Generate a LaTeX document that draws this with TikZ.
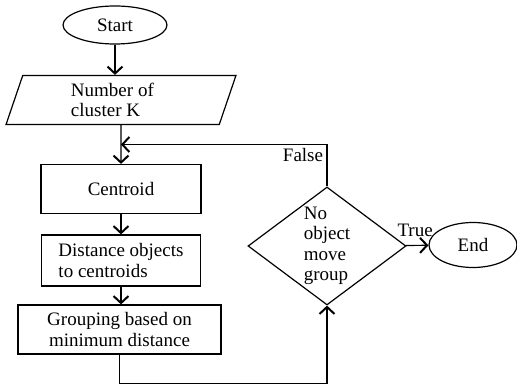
\documentclass[tikz,border=0pt]{standalone}
\usepackage{fontspec}
\setmainfont{Liberation Serif}
\usetikzlibrary{positioning}
\usetikzlibrary{arrows.meta}
\usetikzlibrary{shapes.geometric}
\usetikzlibrary{calc}
\tikzstyle{terminal} = [draw, ellipse, inner sep=0pt]
\tikzstyle{block} = [draw, rectangle, minimum height=49pt, inner sep=2pt]
\tikzstyle{io} = [draw, trapezium, trapezium left angle=76, trapezium right angle=104, trapezium stretches=true, minimum width=230pt, minimum height=49pt, inner sep=0pt]
\tikzstyle{decision} = [draw, diamond, aspect=1.34, minimum width=158pt, minimum height=118pt, inner sep=0pt]

\begin{document}
\begin{tikzpicture}[>={Straight Barb[length=7pt,width=15pt,line width=2pt]}, line width=1.2pt, font=\fontsize{19}{20.5}\selectfont, x=1pt, y=1pt]
    \useasboundingbox (-115,25) rectangle (402,-362);
    \node[terminal, name=start, minimum width=104pt, minimum height=38pt] {Start};
    \node[io, below of=start, name=input, node distance=75pt, xshift=6pt, text width=100pt, align=flush left] {Number of\\cluster K};
    \node[block, below of=input, name=centroid, node distance=89pt, minimum width=160pt] {Centroid};
    \node[block, below of=centroid, name=dist, node distance=71.5pt, minimum width=159pt, minimum height=51pt, align=left] {Distance objects\\to centroids};
    \node[block, below of=dist, name=group, node distance=69pt, xshift=-1.5pt, minimum width=203pt, align=center] {Grouping based on\\minimum distance};
    \node[decision, right of=dist, name=dec, node distance=206pt, yshift=14.5pt, align=left] {No\\object\\move\\group};
    \node[terminal, right of=dec, name=end, node distance=146pt, yshift=1pt, minimum width=88pt, minimum height=45pt] {End};

    \draw[->] (start) -- (start |- input.north);
    \draw[->] (input) -- (centroid);
    \draw[->] (centroid) -- (dist);
    \draw[->] (dist.south) -- (dist.south |- group.north);
    \draw[->] (dec) -- node[above=5pt, xshift=-2pt] {True} (end);
    \draw[->] (dec.north) |- node[pos=0.5, below left] {False} ($(input.south)!0.5!(centroid.north)$);
    \draw[->] (group.south) -- ++(0,-29) -| (dec.south);
\end{tikzpicture}
\end{document}
